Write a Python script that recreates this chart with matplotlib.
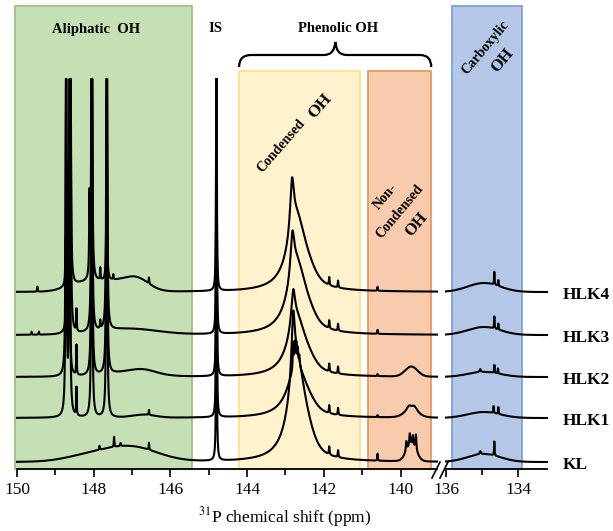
import numpy as np
import matplotlib
matplotlib.use("Agg")
import matplotlib.pyplot as plt
from matplotlib.patches import Rectangle, PathPatch
from matplotlib.path import Path
from matplotlib.lines import Line2D

plt.rcParams['font.family'] = ['Liberation Serif', 'DejaVu Serif']
plt.rcParams['mathtext.fontset'] = 'stix'

# ---------------- data ----------------
samples = ["KL", "HLK1", "HLK2", "HLK3", "HLK4"]
left_ticks = [150, 148, 146, 144, 142, 140]
right_ticks = [136, 134]
CLIP = 390  # top of plotted intensity (peaks are cut off)

# Lorentzian peaks (ppm, height, half-width) and Gaussian humps (ppm, height, sigma)
common_lor = [(144.80, 500, 0.007), (141.86, 8, 0.010), (141.63, 7, 0.010)]

KL_lor = [(147.47, 10, 0.008), (147.85, 4, 0.008), (146.56, 7, 0.008), (147.30, 3, 0.01),
          (142.80, 60, 0.05), (142.72, 95, 0.25), (140.60, 7, 0.008),
          (139.85, 10, 0.015), (139.76, 12, 0.015), (139.68, 10, 0.015), (139.60, 16, 0.015)]
KL_gau = [(147.05, 15, 0.7), (148.20, 5, 0.6), (142.50, 15, 0.2), (139.72, 16, 0.13)]
KL_lor_r = [(134.66, 14, 0.008), (135.05, 3, 0.02)]
KL_gau_r = [(134.95, 8, 0.45)]

HLK1_lor = [(148.72, 450, 0.012), (148.63, 450, 0.012), (148.45, 28, 0.008),
            (148.05, 450, 0.012), (147.66, 450, 0.012), (146.56, 5, 0.008),
            (142.80, 25, 0.012), (142.76, 22, 0.012), (142.72, 20, 0.012),
            (142.68, 15, 0.012), (142.64, 10, 0.012), (142.72, 50, 0.28),
            (140.60, 2, 0.008), (139.78, 5, 0.08), (139.64, 5, 0.08)]
HLK1_gau = [(146.70, 3, 0.3), (142.45, 8, 0.2), (139.72, 6, 0.18)]
HLK1_lor_r = [(134.68, 7, 0.008), (134.55, 7, 0.008)]
HLK1_gau_r = [(134.95, 6, 0.45)]

HLK2_lor = [(148.72, 450, 0.012), (148.63, 207, 0.012), (148.45, 30, 0.008),
            (148.05, 450, 0.012), (147.66, 450, 0.012),
            (142.80, 35, 0.06), (142.72, 55, 0.28), (140.60, 2, 0.008)]
HLK2_gau = [(147.0, 5, 0.6), (146.70, 3, 0.3), (142.45, 8, 0.2), (139.72, 10, 0.16)]
HLK2_lor_r = [(134.66, 8, 0.008), (134.56, 5, 0.008), (135.05, 3, 0.02)]
HLK2_gau_r = [(134.95, 5, 0.45)]

HLK3_lor = [(149.62, 3, 0.008), (149.43, 3, 0.008), (148.70, 165, 0.012), (148.61, 450, 0.012),
            (148.45, 22, 0.008), (148.05, 450, 0.012), (147.83, 8, 0.008), (147.66, 450, 0.012),
            (142.82, 42, 0.06), (142.72, 68, 0.28), (140.60, 4, 0.008)]
HLK3_gau = [(147.10, 6, 0.75), (142.45, 10, 0.2)]
HLK3_lor_r = [(134.66, 12, 0.008), (134.55, 6, 0.008)]
HLK3_gau_r = [(134.95, 8, 0.45)]

HLK4_lor = [(149.47, 5, 0.008), (148.73, 44, 0.012), (148.61, 450, 0.012), (148.11, 76, 0.01),
            (148.05, 450, 0.012), (147.83, 12, 0.008), (147.66, 138, 0.012), (147.49, 5, 0.008),
            (146.56, 6, 0.008), (142.83, 52, 0.06), (142.72, 70, 0.28), (140.60, 4, 0.008)]
HLK4_gau = [(148.30, 7, 0.4), (147.40, 10, 0.5), (146.85, 9, 0.3), (142.45, 10, 0.2)]
HLK4_lor_r = [(134.66, 13, 0.008), (134.55, 6, 0.008)]
HLK4_gau_r = [(134.95, 9, 0.45)]

left_lor = [KL_lor, HLK1_lor, HLK2_lor, HLK3_lor, HLK4_lor]
left_gau = [KL_gau, HLK1_gau, HLK2_gau, HLK3_gau, HLK4_gau]
right_lor = [KL_lor_r, HLK1_lor_r, HLK2_lor_r, HLK3_lor_r, HLK4_lor_r]
right_gau = [KL_gau_r, HLK1_gau_r, HLK2_gau_r, HLK3_gau_r, HLK4_gau_r]


def spectrum(ppm, base, lor, gau):
    y = np.full_like(ppm, float(base))
    for c, h, w in lor:
        y += h / (1.0 + ((ppm - c) / w) ** 2)
    for c, h, s in gau:
        y += h * np.exp(-0.5 * ((ppm - c) / s) ** 2)
    return np.minimum(y, CLIP)


# ---------------- figure ----------------
W, H = 613, 531
fig = plt.figure(figsize=(W / 100, H / 100), dpi=100)


def fx(px):
    return px / W


def fy(py):
    return 1 - py / H


ax_bot, ax_top = 469, 6
axL = fig.add_axes([fx(17), fy(ax_bot), fx(437 - 17), (ax_bot - ax_top) / H])
axR = fig.add_axes([fx(446), fy(ax_bot), fx(547 - 446), (ax_bot - ax_top) / H])
axL.set_xlim(150, 139.05)
axR.set_xlim(136, 133.2)
for ax in (axL, axR):
    ax.set_ylim(0, ax_bot - ax_top)
    ax.patch.set_alpha(0)
    for s in ("left", "right", "top"):
        ax.spines[s].set_visible(False)
    ax.spines["bottom"].set_linewidth(1.3)
    ax.set_yticks([])
    ax.tick_params(axis="x", which="major", direction="out", length=6, width=1.2,
                   labelsize=12.5, pad=3)
    ax.tick_params(axis="x", which="minor", direction="out", length=4, width=1.2)

axL.set_xticks(left_ticks)
axL.set_xticks([149, 147, 145, 143, 141], minor=True)
axR.set_xticks(right_ticks)
axR.set_xticks([135], minor=True)

# shaded regions
top_full = ax_bot - ax_top
top_phen = ax_bot - 71
axL.add_patch(Rectangle((150.05, 0), 145.45 - 150.05, top_full, facecolor="#C5E0B4",
                        edgecolor="#9DC284", lw=1.3, zorder=0, clip_on=False))
axL.add_patch(Rectangle((144.21, 0), 141.07 - 144.21, top_phen, facecolor="#FFF2CC",
                        edgecolor="#FFE08A", lw=1.3, zorder=0, clip_on=False))
axL.add_patch(Rectangle((140.86, 0), 139.20 - 140.86, top_phen, facecolor="#F8CBAD",
                        edgecolor="#E39A68", lw=1.3, zorder=0, clip_on=False))
axR.add_patch(Rectangle((135.82, 0), 133.88 - 135.82, top_full, facecolor="#B4C7E7",
                        edgecolor="#7EA0DA", lw=1.3, zorder=0, clip_on=False))

# spectra
ppmL = np.linspace(150, 139.05, 16000)
ppmR = np.linspace(136, 133.2, 4000)
bases = [ax_bot - 462, ax_bot - 418, ax_bot - 377, ax_bot - 335, ax_bot - 292]
for i, name in enumerate(samples):
    b = bases[i]
    axL.plot(ppmL, spectrum(ppmL, b, left_lor[i] + common_lor, left_gau[i]),
             color="black", lw=1.5, zorder=3, clip_on=False)
    axR.plot(ppmR, spectrum(ppmR, b, right_lor[i], right_gau[i]),
             color="black", lw=1.5, zorder=3, clip_on=False)
    fig.text(fx(563), fy(ax_bot - b + 3), name, fontsize=12.5, fontweight="bold",
             ha="left", va="center")

# brace over phenolic region
yb0, yb1, yb2 = ax_bot - 67, ax_bot - 55, ax_bot - 42
verts = [(144.21, yb0), (144.21, yb1), (143.9, yb1), (142.0, yb1),
         (141.72, yb1), (141.70, yb2), (141.68, yb1), (141.4, yb1),
         (139.5, yb1), (139.2, yb1), (139.2, yb0)]
codes = [Path.MOVETO, Path.CURVE3, Path.CURVE3, Path.LINETO,
         Path.CURVE3, Path.CURVE3, Path.CURVE3, Path.CURVE3,
         Path.LINETO, Path.CURVE3, Path.CURVE3]
axL.add_patch(PathPatch(Path(verts, codes), facecolor="none", edgecolor="black",
                        lw=1.6, clip_on=False, zorder=4))

# annotations
fig.text(fx(96), fy(29), "Aliphatic  OH", fontsize=10.5, fontweight="bold", ha="center", va="center")
fig.text(fx(215), fy(28), "IS", fontsize=10.5, fontweight="bold", ha="center", va="center")
fig.text(fx(338), fy(29), "Phenolic OH", fontsize=10.5, fontweight="bold", ha="center", va="center")
fig.text(fx(281), fy(146), "Condensed", fontsize=10, fontweight="bold", rotation=49,
         ha="center", va="center", rotation_mode="anchor")
fig.text(fx(320), fy(106), "OH", fontsize=12.5, fontweight="bold", rotation=49,
         ha="center", va="center", rotation_mode="anchor")
fig.text(fx(386), fy(197), "Non-", fontsize=10, fontweight="bold", rotation=50,
         ha="center", va="center", rotation_mode="anchor")
fig.text(fx(400), fy(212), "Condensed", fontsize=10, fontweight="bold", rotation=50,
         ha="center", va="center", rotation_mode="anchor")
fig.text(fx(417), fy(225), "OH", fontsize=12, fontweight="bold", rotation=50,
         ha="center", va="center", rotation_mode="anchor")
fig.text(fx(486), fy(48), "Carboxylic", fontsize=10, fontweight="bold", rotation=50,
         ha="center", va="center", rotation_mode="anchor")
fig.text(fx(503), fy(61), "OH", fontsize=12, fontweight="bold", rotation=50,
         ha="center", va="center", rotation_mode="anchor")

fig.text(fx(285), fy(517), r"$^{31}$P chemical shift (ppm)", fontsize=12.5,
         ha="center", va="center")

# axis break marks
for dx in (0, 8):
    fig.add_artist(Line2D([fx(432 + dx), fx(440 + dx)], [fy(478), fy(462)],
                          color="black", lw=1.2))

fig.savefig("out.png", dpi=100)
